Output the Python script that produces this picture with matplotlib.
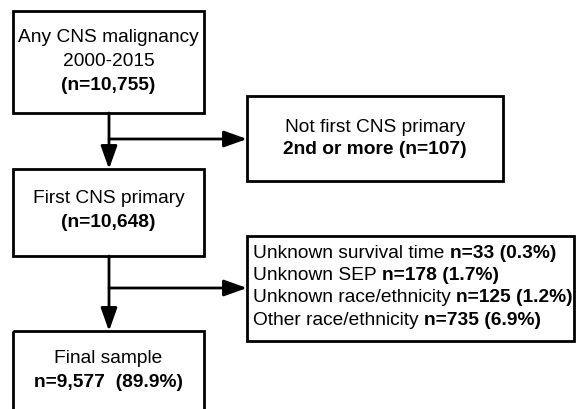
import matplotlib.pyplot as plt
from matplotlib.patches import Rectangle

plt.rcParams['font.family'] = ['Liberation Sans', 'DejaVu Sans']

# box contents
stage_titles = [["Any CNS malignancy", "2000-2015"], ["First CNS primary"], ["Final sample"]]
stage_counts = ["(n=10,755)", "(n=10,648)", "n=9,577  (89.9%)"]
excl1_title = "Not first CNS primary"
excl1_count = "2nd or more (n=107)"
excl2_labels = ["Unknown survival time", "Unknown SEP", "Unknown race/ethnicity", "Other race/ethnicity"]
excl2_counts = ["n=33 (0.3%)", "n=178 (1.7%)", "n=125 (1.2%)", "n=735 (6.9%)"]

fig = plt.figure(figsize=(5.77, 4.10), dpi=100)
ax = fig.add_axes([0, 0, 1, 1])
ax.set_xlim(0, 577)
ax.set_ylim(410, 0)
ax.axis('off')

fs = 13.8
lw = 2.0

def box(x0, y0, x1, y1):
    ax.add_patch(Rectangle((x0, y0), x1 - x0, y1 - y0, fill=False, lw=lw, ec='black'))

def arrow(x0, y0, x1, y1):
    ax.annotate("", xy=(x1, y1), xytext=(x0, y0),
                arrowprops=dict(arrowstyle='-|>,head_length=1.4,head_width=0.5', lw=lw, color='black',
                                shrinkA=0, shrinkB=0))

# left column boxes: (top, bottom, first text line centre)
left = [(12, 114, 38), (170, 257, 199), (332, 420, 359)]
step = 24
for (y0, y1, yt), titles, cnt in zip(left, stage_titles, stage_counts):
    box(13, y0, 204, y1)
    for j, t in enumerate(titles):
        ax.text(108.5, yt + j * step, t, ha='center', va='center', fontsize=fs)
    ax.text(108.5, yt + len(titles) * step, cnt, ha='center', va='center',
            fontsize=fs, fontweight='bold')

# arrows between stages
arrow(109, 114, 109, 170)
arrow(109, 140, 247, 140)
arrow(109, 257, 109, 332)
arrow(109, 289, 247, 289)

# exclusion boxes
box(247, 97, 503, 182)
ax.text(375, 127, excl1_title, ha='center', va='center', fontsize=fs)
ax.text(375, 150, excl1_count, ha='center', va='center', fontsize=fs, fontweight='bold')

box(247, 237, 574, 342)
for i, (lab, cnt) in enumerate(zip(excl2_labels, excl2_counts)):
    y = 253 + i * 22.4
    t = ax.text(253, y, lab + " ", ha='left', va='center', fontsize=fs)
    ax.annotate(cnt, xycoords=t, xy=(1, 0.5), va='center', ha='left',
                fontsize=fs, fontweight='bold')

fig.savefig("out.png", dpi=100)
